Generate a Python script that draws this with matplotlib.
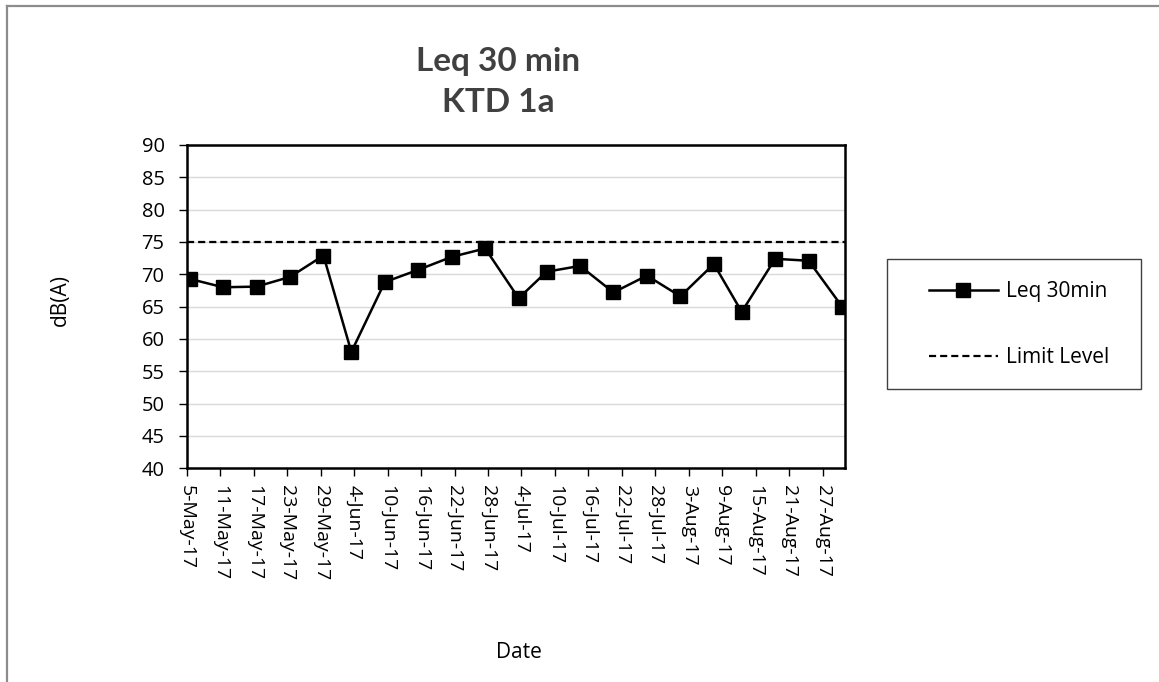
import numpy as np
import pandas as pd
import matplotlib
matplotlib.use("Agg")
import matplotlib.pyplot as plt
from matplotlib.lines import Line2D
from matplotlib.patches import Rectangle

plt.rcParams['font.family'] = ['Open Sans', 'DejaVu Sans']

# Fechas de medición y valores Leq 30 min
fechas = ['2017-05-05', '2017-05-11', '2017-05-17', '2017-05-23', '2017-05-29',
          '2017-06-03', '2017-06-09', '2017-06-15', '2017-06-21', '2017-06-27',
          '2017-07-03', '2017-07-08', '2017-07-14', '2017-07-20', '2017-07-26',
          '2017-08-01', '2017-08-07', '2017-08-12', '2017-08-18', '2017-08-24',
          '2017-08-30']
leq_30min = [69.3, 68.0, 68.1, 69.6, 72.9,
             58.0, 68.8, 70.7, 72.7, 74.0,
             66.3, 70.4, 71.3, 67.2, 69.8,
             66.6, 71.6, 64.2, 72.4, 72.1,
             65.0]
limite = 75

# eje de fechas (cada 6 dias)
ticks_fechas = pd.date_range('2017-05-05', periods=20, freq='6D')
ticks_etiquetas = [f"{d.day}-{d.strftime('%b')}-{d.strftime('%y')}" for d in ticks_fechas]
y_ticks = list(range(40, 91, 5))

fechas_dt = pd.to_datetime(fechas) + pd.Timedelta(hours=12)

fig = plt.figure(figsize=(11.59, 6.82), dpi=100)
ax = fig.add_axes([0.1612, 0.3133, 0.729 - 0.1612, 0.7874 - 0.3133])

ax.plot(fechas_dt, leq_30min, color='black', lw=1.8, marker='s', ms=9.5,
        label='Leq 30min', zorder=4)
ax.axhline(limite, color='black', lw=1.6, ls=(0, (3.2, 1.8)), label='Limit Level', zorder=3)

ax.set_xlim(pd.Timestamp('2017-05-05'), pd.Timestamp('2017-08-31'))
ax.set_ylim(40, 90)
ax.set_yticks(y_ticks)
ax.set_xticks(ticks_fechas)
ax.set_xticklabels(ticks_etiquetas, rotation=-90, ha='center', va='top')
ax.tick_params(axis='both', direction='out', length=5.5, width=1, colors='black')
ax.tick_params(axis='x', pad=6.5, labelsize=14)
ax.tick_params(axis='y', pad=10.5, labelsize=14.5)
ax.grid(axis='y', color='#d9d9d9', lw=1)
ax.set_axisbelow(True)
for s in ax.spines.values():
    s.set_linewidth(1.8)
    s.set_color('black')

fig.text(0.4297, 1 - 62 / 682, 'Leq 30 min', ha='center', va='center', fontsize=24,
         fontweight='bold', color='#404040', family=['Lato', 'DejaVu Sans'])
fig.text(0.4297, 1 - 103 / 682, 'KTD 1a', ha='center', va='center', fontsize=24,
         fontweight='bold', color='#404040', family=['Lato', 'DejaVu Sans'])
fig.text(60 / 1159, 1 - 300 / 682, 'dB(A)', rotation=90, ha='center', va='center', fontsize=15)
fig.text(519 / 1159, 1 - 652 / 682, 'Date', ha='center', va='center', fontsize=15)

# cuadro de leyenda
fig.add_artist(Rectangle((886.7 / 1159, 1 - 389 / 682), (1141 - 886.7) / 1159, 130 / 682,
                         transform=fig.transFigure, fill=False, edgecolor='#404040', lw=1))
ley = fig.legend(loc='upper left', bbox_to_anchor=(929 / 1159, 1 - 281 / 682), frameon=False,
                 fontsize=15, handlelength=3.3, handletextpad=0.4, labelspacing=2.17,
                 borderaxespad=0, borderpad=0)

# borde del grafico
fig.add_artist(Line2D([7 / 1159, 7 / 1159], [0, 1 - 6 / 682], transform=fig.transFigure,
                      color='#8c8c8c', lw=1.6))
fig.add_artist(Line2D([7 / 1159, 1], [1 - 6 / 682, 1 - 6 / 682], transform=fig.transFigure,
                      color='#8c8c8c', lw=1.6))

fig.savefig('out.png', dpi=100)
